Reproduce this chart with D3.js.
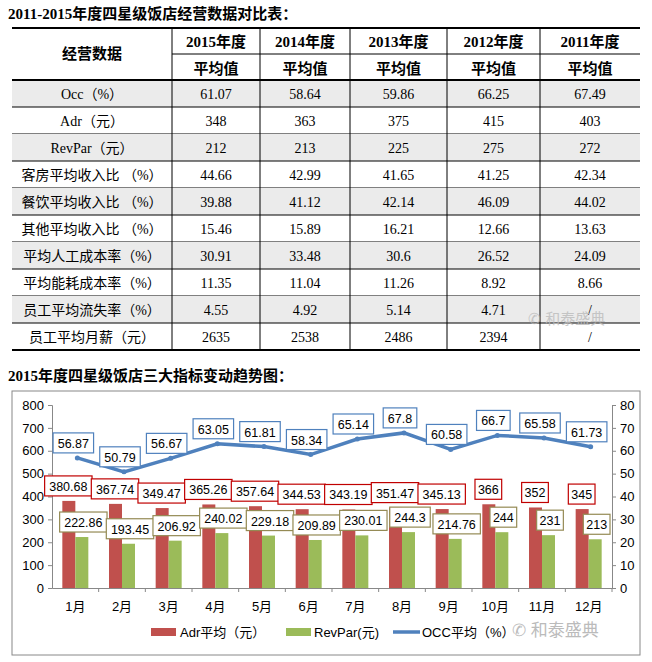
<!DOCTYPE html>
<html><head><meta charset="utf-8">
<script src="https://cdn.jsdelivr.net/npm/d3@7"></script>
<style>body{margin:0;background:#fff}</style>
</head><body><div id="c"></div>
<script>
// table data
const years = ["2015年度", "2014年度", "2013年度", "2012年度", "2011年度"];
const rowNames = ["Occ（%）", "Adr（元）", "RevPar（元）", "客房平均收入比 （%）", "餐饮平均收入比 （%）",
  "其他平均收入比 （%）", "平均人工成本率（%）", "平均能耗成本率（%）", "员工平均流失率（%）", "员工平均月薪（元）"];
const tableValues = [
  ["61.07", "58.64", "59.86", "66.25", "67.49"],
  ["348", "363", "375", "415", "403"],
  ["212", "213", "225", "275", "272"],
  ["44.66", "42.99", "41.65", "41.25", "42.34"],
  ["39.88", "41.12", "42.14", "46.09", "44.02"],
  ["15.46", "15.89", "16.21", "12.66", "13.63"],
  ["30.91", "33.48", "30.6", "26.52", "24.09"],
  ["11.35", "11.04", "11.26", "8.92", "8.66"],
  ["4.55", "4.92", "5.14", "4.71", "/"],
  ["2635", "2538", "2486", "2394", "/"]
];
// chart data
const months = ["1月","2月","3月","4月","5月","6月","7月","8月","9月","10月","11月","12月"];
const adr = [380.68, 367.74, 349.47, 365.26, 357.64, 344.53, 343.19, 351.47, 345.13, 366, 352, 345];
const revpar = [222.86, 193.45, 206.92, 240.02, 229.18, 209.89, 230.01, 244.3, 214.76, 244, 231, 213];
const occ = [56.87, 50.79, 56.67, 63.05, 61.81, 58.34, 65.14, 67.8, 60.58, 66.7, 65.58, 61.73];

const W = 652, H = 662;
const svg = d3.select("#c").append("svg").attr("width", W).attr("height", H);
const serif = "'Liberation Serif','Noto Sans CJK SC',serif";
const sans = "'Liberation Sans','Noto Sans CJK SC',sans-serif";

svg.append("text").attr("x", 8).attr("y", 19).attr("font-family", serif)
  .attr("font-weight", "bold").attr("font-size", 15).text("2011-2015年度四星级饭店经营数据对比表：");

// table
const colX = [12, 172, 260, 350, 447, 540, 640];
const tTop = 28, headH = 26, rowH = 27, bodyTop = 80;
const tg = svg.append("g").attr("font-family", serif).attr("font-size", 14);
rowNames.forEach((r, i) => {
  const y = bodyTop + i * rowH;
  if (i % 2 === 0) tg.append("rect").attr("x", colX[0]).attr("y", y).attr("width", colX[6] - colX[0]).attr("height", rowH).attr("fill", "#ebebeb");
  tg.append("text").attr("x", (colX[0] + colX[1]) / 2).attr("y", y + rowH / 2 + 5).attr("text-anchor", "middle").text(r);
  tableValues[i].forEach((v, j) => {
    tg.append("text").attr("x", (colX[j + 1] + colX[j + 2]) / 2).attr("y", y + rowH / 2 + 5).attr("text-anchor", "middle").text(v);
  });
  tg.append("line").attr("x1", colX[0]).attr("x2", colX[6]).attr("y1", y + rowH).attr("y2", y + rowH).attr("stroke", "#000").attr("stroke-width", i === 9 ? 2 : 1);
});
const bottom = bodyTop + rowNames.length * rowH;
tg.append("text").attr("x", (colX[0] + colX[1]) / 2).attr("y", tTop + headH + 5).attr("text-anchor", "middle").attr("font-weight", "bold").attr("font-size", 15).text("经营数据");
years.forEach((yr, j) => {
  const cx = (colX[j + 1] + colX[j + 2]) / 2;
  tg.append("text").attr("x", cx).attr("y", tTop + 19).attr("text-anchor", "middle").attr("font-weight", "bold").attr("font-size", 15).text(yr);
  tg.append("text").attr("x", cx).attr("y", tTop + headH + 20).attr("text-anchor", "middle").attr("font-weight", "bold").attr("font-size", 15).text("平均值");
});
tg.append("line").attr("x1", colX[1]).attr("x2", colX[6]).attr("y1", tTop + headH).attr("y2", tTop + headH).attr("stroke", "#000");
[tTop, bodyTop].forEach(y => tg.append("line").attr("x1", colX[0]).attr("x2", colX[6]).attr("y1", y).attr("y2", y).attr("stroke", "#000").attr("stroke-width", 2));
colX.slice(1, 6).forEach(x => tg.append("line").attr("x1", x).attr("x2", x).attr("y1", tTop).attr("y2", bottom).attr("stroke", "#000"));
svg.append("text").attr("x", 528).attr("y", 324).attr("font-family", sans).attr("font-size", 15).attr("fill", "#bbb").attr("opacity", 0.8).text("✆ 和泰盛典");

// chart
svg.append("text").attr("x", 8).attr("y", 381).attr("font-family", serif)
  .attr("font-weight", "bold").attr("font-size", 15).text("2015年度四星级饭店三大指标变动趋势图：");
svg.append("rect").attr("x", 12).attr("y", 391).attr("width", 628).attr("height", 264).attr("fill", "#fff").attr("stroke", "#888");

const m = {l: 52, r: 612, t: 405, b: 588};
const x = d3.scaleBand().domain(months).range([m.l, m.r]);
const yL = d3.scaleLinear().domain([0, 800]).range([m.b, m.t]);
const yR = d3.scaleLinear().domain([0, 80]).range([m.b, m.t]);
const cg = svg.append("g").attr("font-family", sans).attr("font-size", 13);

const axL = cg.append("g").attr("transform", `translate(${m.l},0)`).call(d3.axisLeft(yL).ticks(8).tickSize(4).tickPadding(4));
const axR = cg.append("g").attr("transform", `translate(${m.r},0)`).call(d3.axisRight(yR).ticks(8).tickSize(4).tickPadding(4));
const axB = cg.append("g").attr("transform", `translate(0,${m.b})`).call(d3.axisBottom(x).tickSize(0).tickPadding(14));
axB.selectAll(".tick").append("line").attr("x1", x.bandwidth() / 2).attr("x2", x.bandwidth() / 2).attr("y1", 0).attr("y2", 4).attr("stroke", "#888");
[axL, axR, axB].forEach(a => { a.select(".domain").attr("stroke", "#888"); a.selectAll(".tick line").attr("stroke", "#888"); a.selectAll("text").attr("font-size", 13).attr("fill", "#000").attr("font-family", sans); });

const bw = 13;
cg.selectAll(".adr").data(adr).enter().append("rect")
  .attr("x", (d, i) => x(months[i]) + x.bandwidth() / 2 - bw).attr("y", d => yL(d))
  .attr("width", bw).attr("height", d => m.b - yL(d)).attr("fill", "#c0504d");
cg.selectAll(".rev").data(revpar).enter().append("rect")
  .attr("x", (d, i) => x(months[i]) + x.bandwidth() / 2).attr("y", d => yL(d))
  .attr("width", bw).attr("height", d => m.b - yL(d)).attr("fill", "#9bbb59");

const cx = i => x(months[i]) + x.bandwidth() / 2 + 2;
cg.append("path").datum(occ).attr("fill", "none").attr("stroke", "#4f81bd").attr("stroke-width", 3.5)
  .attr("d", d3.line().x((d, i) => cx(i)).y(d => yR(d)));
cg.selectAll(".pt").data(occ).enter().append("circle").attr("cx", (d, i) => cx(i)).attr("cy", d => yR(d)).attr("r", 2.5).attr("fill", "#4f81bd");

function labels(data, yfun, dx, color) {
  data.forEach((d, i) => {
    const t = String(d);
    const w = t.length * 6.9 + 6;
    const px = x(months[i]) + x.bandwidth() / 2 + dx, py = yfun(d) - 15;
    cg.append("rect").attr("x", px - w / 2).attr("y", py - 10).attr("width", w).attr("height", 20)
      .attr("fill", "#fff").attr("stroke", color).attr("stroke-width", 1.2);
    cg.append("text").attr("x", px).attr("y", py + 5).attr("text-anchor", "middle").attr("font-size", 12.5).text(t);
  });
}
labels(occ, yR, -2, "#4f81bd");
labels(adr, yL, -7, "#c00000");
labels(revpar, yL, 8, "#948a54");

// legend
const lg = cg.append("g").attr("font-size", 13);
lg.append("rect").attr("x", 151).attr("y", 628).attr("width", 25).attr("height", 8).attr("fill", "#c0504d");
lg.append("text").attr("x", 180).attr("y", 637).text("Adr平均（元）");
lg.append("rect").attr("x", 286).attr("y", 628).attr("width", 25).attr("height", 8).attr("fill", "#9bbb59");
lg.append("text").attr("x", 314).attr("y", 637).text("RevPar(元)");
lg.append("line").attr("x1", 393).attr("x2", 420).attr("y1", 632).attr("y2", 632).attr("stroke", "#4f81bd").attr("stroke-width", 3.5);
lg.append("text").attr("x", 422).attr("y", 637).text("OCC平均（%）");
svg.append("text").attr("x", 512).attr("y", 636).attr("font-family", sans).attr("font-size", 17).attr("fill", "#bbb").text("✆ 和泰盛典");
</script></body></html>
